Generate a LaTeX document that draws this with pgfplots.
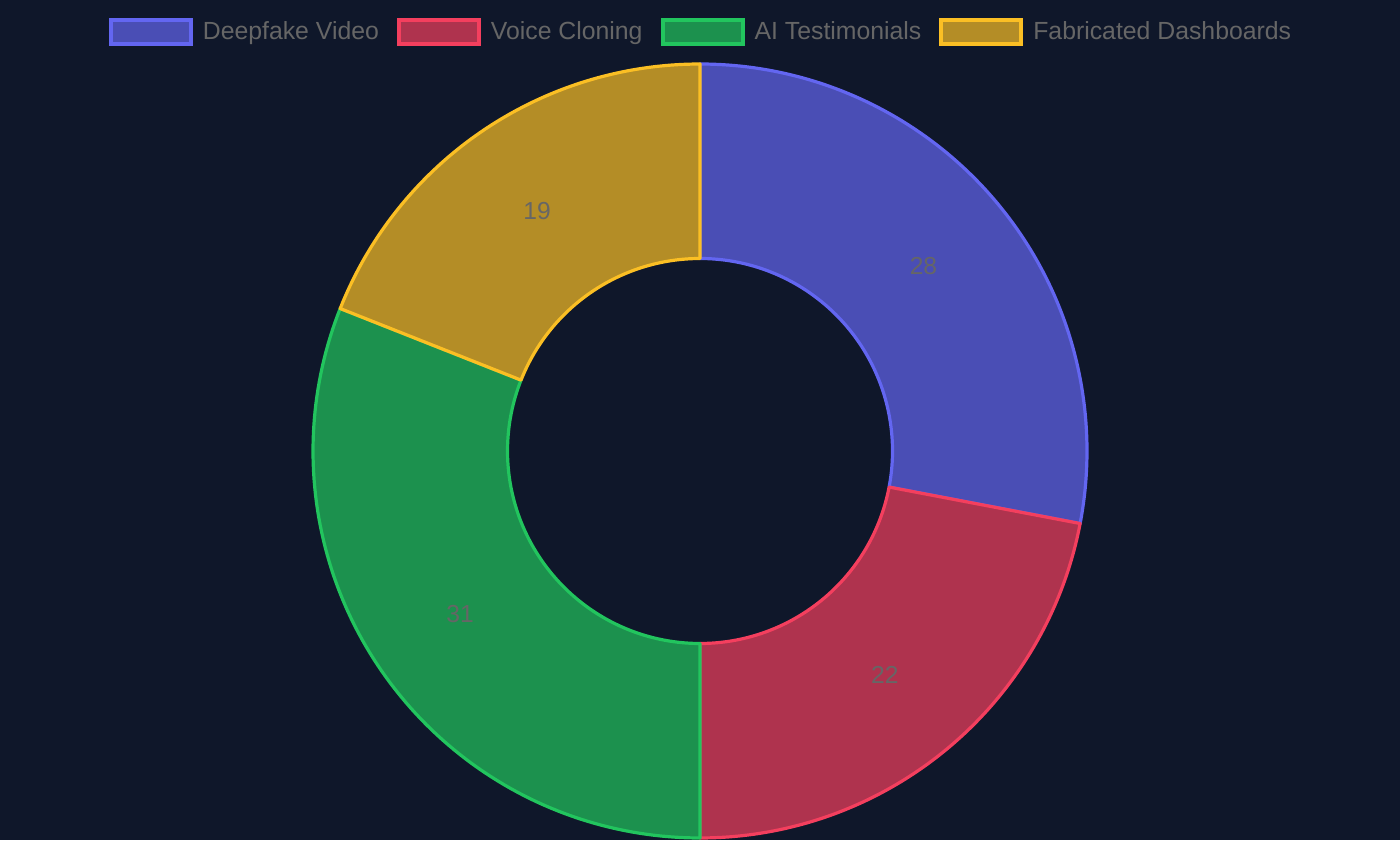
\documentclass[border=0pt]{standalone}
\usepackage{pgfplots}
\usepackage{pgfplotstable}
\pgfplotsset{compat=1.18}
\usepackage{fontspec}
\setmainfont{Liberation Sans}
\definecolor{bgc}{HTML}{0F172A}
\definecolor{txt}{HTML}{666666}
\definecolor{cA}{HTML}{6366F1}
\definecolor{cB}{HTML}{F43F5E}
\definecolor{cC}{HTML}{22C55E}
\definecolor{cD}{HTML}{FBBF24}
\colorlet{fA}{cA!70!bgc}
\colorlet{fB}{cB!70!bgc}
\colorlet{fC}{cC!70!bgc}
\colorlet{fD}{cD!70!bgc}

\pgfplotstableread[col sep=comma]{
label,value
Deepfake Video,28
Voice Cloning,22
AI Testimonials,31
Fabricated Dashboards,19
}\donutdata

\newcommand\sector[4]{%
  \filldraw[fill=#3, draw=#4, line width=1.6pt, line join=round]
    plot[domain=#1:#2, samples=100, variable=\t] (axis cs:{350+193.5*cos(\t)},{194.5+193.5*sin(\t)})
    -- plot[domain=#2:#1, samples=100, variable=\t] (axis cs:{350+96.25*cos(\t)},{194.5+96.25*sin(\t)})
    -- cycle;}
\newcommand\seglabel[2]{%
  \node[text=txt, font=\fontsize{12.3}{14}\selectfont, inner sep=0pt] at (axis cs:{350+145*cos(#1)},{194.5+145*sin(#1)}) {#2};}

\begin{document}
\begin{tikzpicture}
\pgfplotstablegetelem{0}{value}\of\donutdata \edef\vA{\pgfplotsretval}
\pgfplotstablegetelem{1}{value}\of\donutdata \edef\vB{\pgfplotsretval}
\pgfplotstablegetelem{2}{value}\of\donutdata \edef\vC{\pgfplotsretval}
\pgfplotstablegetelem{3}{value}\of\donutdata \edef\vD{\pgfplotsretval}
\pgfmathsetmacro\tot{\vA+\vB+\vC+\vD}
\pgfmathsetmacro\aA{90}
\pgfmathsetmacro\aB{\aA-360*\vA/\tot}
\pgfmathsetmacro\aC{\aB-360*\vB/\tot}
\pgfmathsetmacro\aD{\aC-360*\vC/\tot}
\pgfmathsetmacro\aE{\aD-360*\vD/\tot}
\pgfmathsetmacro\mA{(\aA+\aB)/2}
\pgfmathsetmacro\mB{(\aB+\aC)/2}
\pgfmathsetmacro\mC{(\aC+\aD)/2}
\pgfmathsetmacro\mD{(\aD+\aE)/2}
\begin{axis}[
  width=700pt, height=420pt, scale only axis,
  xmin=0, xmax=700, ymin=0, ymax=420,
  hide axis,
  axis background/.style={fill=bgc},
  legend image code/.code={\draw[#1, line width=2pt] (0pt,-6pt) rectangle (40pt,6pt);},
  legend style={
    at={(rel axis cs:0.5,0.9613)}, anchor=center,
    draw=none, fill=none, text=txt,
    font=\fontsize{12.4}{14}\selectfont,
    legend columns=-1,
    nodes={inner sep=0pt},
    /tikz/every odd column/.append style={column sep=5pt},
    /tikz/every even column/.append style={column sep=9pt},
  },
]
\addlegendimage{fill=fA, draw=cA}
\addlegendentry{Deepfake Video}
\addlegendimage{fill=fB, draw=cB}
\addlegendentry{Voice Cloning}
\addlegendimage{fill=fC, draw=cC}
\addlegendentry{AI Testimonials}
\addlegendimage{fill=fD, draw=cD}
\addlegendentry{Fabricated Dashboards}
\sector{\aA}{\aB}{fA}{cA}
\sector{\aB}{\aC}{fB}{cB}
\sector{\aC}{\aD}{fC}{cC}
\sector{\aD}{\aE}{fD}{cD}
\seglabel{\mA}{\vA}
\seglabel{\mB}{\vB}
\seglabel{\mC}{\vC}
\seglabel{\mD}{\vD}
\end{axis}
\end{tikzpicture}
\end{document}
